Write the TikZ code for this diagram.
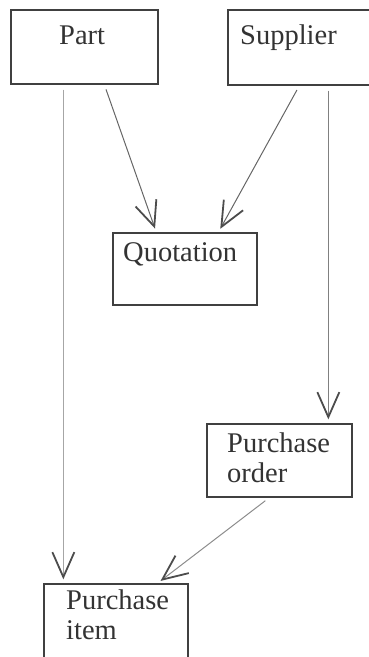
\documentclass[tikz,border=0pt]{standalone}
\usepackage{fontspec}
\setmainfont{Liberation Serif}
\usetikzlibrary{arrows.meta}

\tikzset{
  entity/.style={draw=black!75, line width=1.3pt, rectangle, inner sep=0pt},
  lbl/.style={anchor=base west, inner sep=0pt, text=black!80,
              font=\fontsize{28.5}{30}\selectfont, align=left},
  link/.style={line width=1pt, draw=black!60,
               -{Straight Barb[length=25pt,width=22pt,line width=1.8pt,color=black!70]},
               shorten <=5pt, shorten >=4pt},
  faint/.style={draw=black!35},
}

\begin{document}
\begin{tikzpicture}[x=1pt,y=-1pt]
  \useasboundingbox (0,0) rectangle (369,657);
  \clip (0,0) rectangle (369,657);

  % entity boxes
  \node[entity, minimum width=147pt, minimum height=74pt] (part)  at (84.5,47) {};
  \node[entity, minimum width=156pt, minimum height=75pt] (sup)   at (306,47.5) {};
  \node[entity, minimum width=144pt, minimum height=72pt] (quot)  at (185,269) {};
  \node[entity, minimum width=145pt, minimum height=73pt] (porder) at (279.5,460.5) {};
  \node[entity, minimum width=144pt, minimum height=78pt] (pitem) at (116,623) {};

  % names (multi-line labels are placed by the baseline of their last line)
  \node[lbl] (tpart)  at (59,44)   {Part};
  \node[lbl] (tsup)   at (240,44)  {Supplier};
  \node[lbl] (tquot)  at (123,261) {Quotation};
  \node[lbl] (tpo)    at (227,482) {Purchase\\order};
  \node[lbl] (tpi)    at (66,639)  {Purchase\\item};

  % relationships
  \draw[link, faint] ([xshift=53pt]part.south west) -- ([xshift=20pt]pitem.north west);
  \draw[link] ([xshift=94pt]part.south west) -- ([xshift=44pt]quot.north west);
  \draw[link] ([xshift=72pt]sup.south west) -- ([xshift=106pt]quot.north west);
  \draw[link, draw=black!50] ([xshift=101pt]sup.south west) -- ([xshift=122pt]porder.north west);
  \draw[link, draw=black!45] ([xshift=63pt]porder.south west) -- ([xshift=114pt]pitem.north west);
\end{tikzpicture}
\end{document}
